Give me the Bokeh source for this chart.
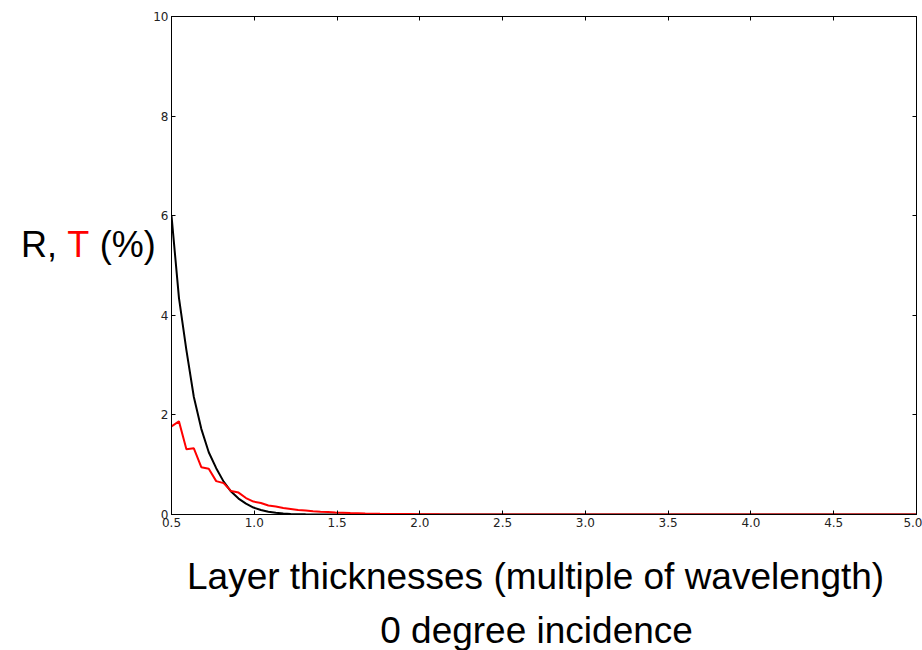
from bokeh.plotting import figure
from bokeh.models import Range1d, FixedTicker, LinearAxis, Label
from bokeh.embed import file_html
from bokeh.resources import INLINE

# Layer thickness (multiples of wavelength)
thickness = [0.500, 0.545, 0.590, 0.635, 0.680, 0.725, 0.770, 0.815, 0.860, 0.905,
             0.950, 0.995, 1.040, 1.085, 1.130, 1.175, 1.220, 1.265, 1.310, 1.355,
             1.400, 1.445, 1.490, 1.535, 1.580, 1.625, 1.670, 1.715, 1.760, 1.805,
             1.850, 1.895, 1.940, 1.985, 2.030, 2.075, 2.120,
             2.500, 3.000, 3.500, 4.000, 4.500, 5.000]

# Reflectance R (%), black
reflect = [6.00, 4.35, 3.30, 2.36, 1.72, 1.25, 0.93, 0.66, 0.46, 0.32,
           0.22, 0.14, 0.09, 0.055, 0.035, 0.02, 0.012, 0.007, 0.004, 0.002,
           0.001, 0.0, 0.0, 0.0, 0.0, 0.0, 0.0, 0.0, 0.0, 0.0,
           0.0, 0.0, 0.0, 0.0, 0.0, 0.0, 0.0,
           0.0, 0.0, 0.0, 0.0, 0.0, 0.0]

# Transmittance T (%), red
transmit = [1.77, 1.87, 1.31, 1.33, 0.95, 0.92, 0.67, 0.63, 0.47, 0.44,
            0.33, 0.26, 0.23, 0.18, 0.16, 0.13, 0.11, 0.09, 0.08, 0.065,
            0.055, 0.048, 0.04, 0.034, 0.028, 0.024, 0.02, 0.017, 0.014, 0.012,
            0.01, 0.009, 0.008, 0.007, 0.006, 0.005, 0.004,
            0.002, 0.001, 0.0, 0.0, 0.0, 0.0]

x_ticks = [0.5, 1.0, 1.5, 2.0, 2.5, 3.0, 3.5, 4.0, 4.5, 5.0]
x_tick_labels = ["0.5", "1.0", "1.5", "2.0", "2.5", "3.0", "3.5", "4.0", "4.5", "5.0"]
y_ticks = [0, 2, 4, 6, 8, 10]
y_tick_labels = ["0", "2", "4", "6", "8", "10"]

p = figure(width=922, height=650, output_backend="svg", toolbar_location=None,
           x_range=Range1d(0.5, 5.0), y_range=Range1d(0, 10),
           min_border_left=171, min_border_right=6, min_border_top=16, min_border_bottom=136)
p.background_fill_color = "white"
p.border_fill_color = "white"
p.outline_line_color = "black"
p.outline_line_width = 1
p.xgrid.visible = False
p.ygrid.visible = False

def style_axis(ax, ticks, labels, show_labels=True):
    ax.ticker = FixedTicker(ticks=ticks)
    ax.major_label_overrides = {t: l for t, l in zip(ticks, labels)}
    ax.major_tick_in = 4
    ax.major_tick_out = 0
    ax.minor_tick_in = 0
    ax.minor_tick_out = 0
    ax.major_tick_line_color = "black"
    ax.axis_line_color = "black"
    ax.major_label_text_font = "DejaVu Sans"
    ax.major_label_standoff = 3
    if show_labels:
        ax.major_label_text_font_size = "12px"
        ax.major_label_text_color = "#222222"
    else:
        ax.major_label_text_font_size = "0px"
        ax.major_label_text_color = None
        ax.major_label_text_alpha = 0
        ax.major_label_standoff = 0

style_axis(p.xaxis[0], x_ticks, x_tick_labels)
style_axis(p.yaxis[0], y_ticks, y_tick_labels)

top_ax = LinearAxis()
style_axis(top_ax, x_ticks, x_tick_labels, show_labels=False)
p.add_layout(top_ax, "above")
right_ax = LinearAxis()
style_axis(right_ax, y_ticks, y_tick_labels, show_labels=False)
p.add_layout(right_ax, "right")

p.line(thickness, reflect, line_color="black", line_width=2)
p.line(thickness, transmit, line_color="red", line_width=2)

font = "Liberation Sans"
# y label "R, T (%)" with coloured T (placed in the left side panel)
ylab_y = 5.42
for txt, xpos, col in [("R,", -0.4084, "black"), ("T", -0.130, "red"), ("(%)", 0.067, "black")]:
    p.add_layout(Label(x=xpos, y=ylab_y, text=txt, text_font=font, text_font_size="36px",
                       text_color=col, text_baseline="alphabetic", text_align="left"), "left")

p.add_layout(Label(x=2.699, y=-1.25, text="Layer thicknesses (multiple of wavelength)",
                   text_font=font, text_font_size="37px", text_color="black",
                   text_baseline="alphabetic", text_align="center"), "below")
p.add_layout(Label(x=2.705, y=-2.33, text="0 degree incidence",
                   text_font=font, text_font_size="37px", text_color="black",
                   text_baseline="alphabetic", text_align="center"), "below")

open("out.html", "w").write(file_html(p, INLINE))
